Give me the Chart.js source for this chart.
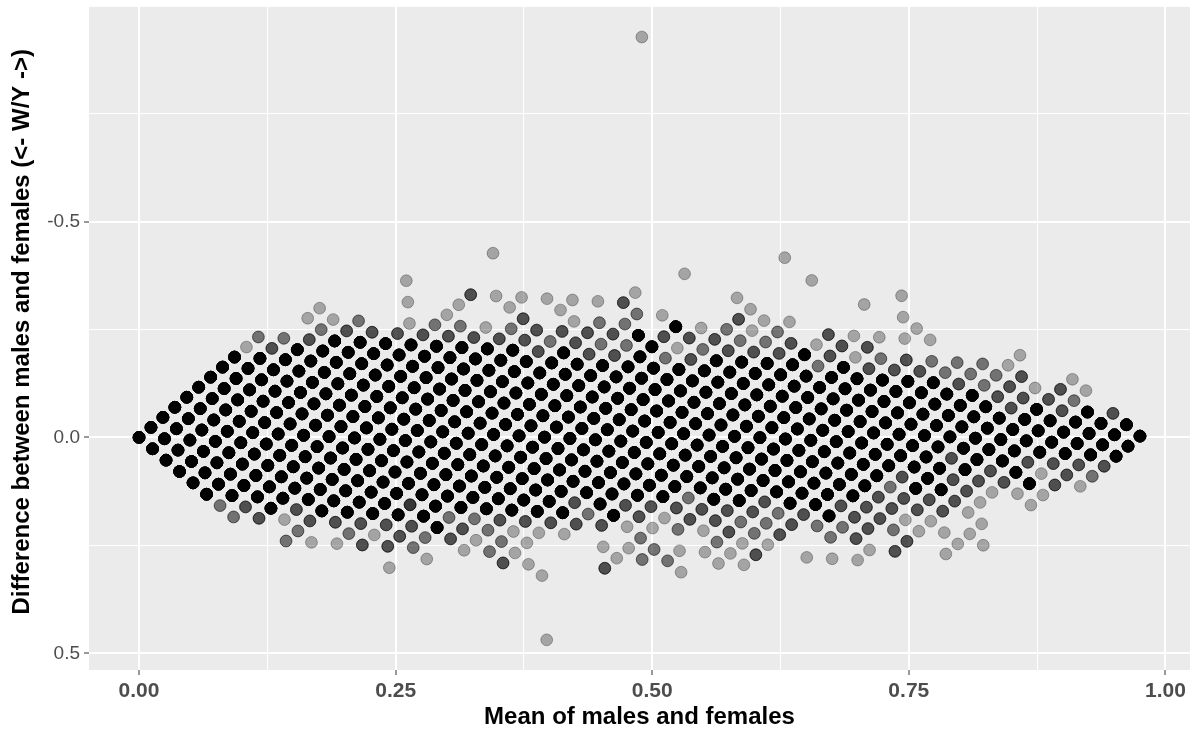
<!DOCTYPE html>
<html>
<head>
<meta charset="utf-8">
<script src="https://cdn.jsdelivr.net/npm/chart.js@4.4.1/dist/chart.umd.min.js"></script>
<style>
  html, body { margin: 0; padding: 0; background: #ffffff; }
  #wrap { width: 1199px; height: 736px; }
</style>
</head>
<body>
<div id="wrap"><canvas id="chartPlace" width="1199" height="736"></canvas></div>
<script>
// value grid: row i -> females = i/43, column j -> males = j/38
// '.' no gene, digit = number of overlapping genes, '#' = many (dense core)
const femaleSteps = 43;
const maleSteps = 38;
const countRows = [
  "######22.." + ".........." + ".........." + "........",
  "#######33." + "2........." + ".........." + "........",
  "#########1" + "21........" + ".........." + "........",
  "#########3" + "3.1......." + ".........." + "........",
  "##########" + "#323.1...." + ".........." + "........",
  "##########" + "##313....." + ".........." + "........",
  "##########" + "###3321..." + ".........." + "........",
  "##########" + "####32...." + "....1....." + "........",
  "##########" + "###4##31.." + ".........." + "........",
  "1#########" + "#####23123" + ".........." + "........",
  "23########" + "######2221" + "11........" + "........",
  ".2########" + "#######311" + ".........." + "........",
  "..3#######" + "########31" + ".........." + "........",
  ".12#######" + "#########3" + "1..3......" + "........",
  ".113######" + "##########" + "3.11......" + "........",
  "...23#####" + "#########3" + "23.12....." + "........",
  ".....3####" + "##########" + "##12221..." + "........",
  ".....13###" + "##########" + "#331.1...." + "........",
  "....1.23##" + "##########" + "##312.11.." + "........",
  "...1..123#" + "##########" + "###331211." + "........",
  "......1.13" + "##########" + "###233313." + "........",
  "......3..2" + "33########" + "#####3221." + "........",
  ".......113" + "32########" + "######323." + "1.......",
  "........1." + ".333######" + "######323." + ".1......",
  ".....1...1" + "11323#####" + "########32" + "2.1.....",
  ".........." + "1.232#####" + "##########" + "231.....",
  ".........." + ".1.2##2###" + "#########3" + "33.3....",
  ".........." + "..32.313##" + "##########" + "3323....",
  ".........." + "..1.1#32##" + "##########" + "3311.1..",
  ".........." + "......133#" + "##########" + "233111..",
  ".........." + ".......223" + "##########" + "3#33.11.",
  ".........." + "...1...312" + "3#########" + "###311..",
  ".........." + "......1112" + "3#2#######" + "##331...",
  ".........." + ".........1" + ".13#######" + "#3#31...",
  ".........." + ".........." + ".3313#####" + "###3311.",
  ".........." + ".........." + "..1323####" + "######1.",
  ".........." + "......1.1." + "...1.33###" + "####313.",
  ".........." + ".........." + ".1..1.223#" + "#####331",
  ".........." + ".........." + "...111.222" + "33####32",
  ".........." + ".........." + "..1.....22" + "33#####3",
  ".........." + ".........." + ".........1" + "3133####",
  ".1........" + ".........." + ".........1" + "..32####",
  ".........." + ".........." + ".........." + "..11.3##"
];

const xTickValues = [0, 0.125, 0.25, 0.375, 0.5, 0.625, 0.75, 0.875, 1];
const xTickLabels = ["0.00", "", "0.25", "", "0.50", "", "0.75", "", "1.00"];
const yTickValues = [-0.75, -0.5, -0.25, 0, 0.25, 0.5];
const yTickLabels = ["", "-0.5", "", "0.0", "", "0.5"];

const xTitle = "Mean of males and females";
const yTitle = "  Difference between males and females (<- W/Y ->)";

function countOf(ch) {
  if (ch == ".") return 0;
  if (ch == "#") return 12;
  return parseInt(ch);
}

// one point per gene, so overlaps darken like in the original
var points = [];
for (var i = 0; i < countRows.length; i++) {
  for (var j = 0; j < countRows[i].length; j++) {
    var n = countOf(countRows[i][j]);
    var f = i / femaleSteps;
    var m = j / maleSteps;
    for (var k = 0; k < n; k++) {
      points.push({x: (m + f) / 2, y: m - f});
    }
  }
}

// ggplot style 5% expansion of the data range
var xs = points.map(p => p.x), ys = points.map(p => p.y);
var xMin = Math.min(...xs), xMax = Math.max(...xs);
var yMin = Math.min(...ys), yMax = Math.max(...ys);
var xPad = (xMax - xMin) * 0.05, yPad = (yMax - yMin) * 0.05;

const fontFam = "'Liberation Sans', Arial, Helvetica, sans-serif";

const panelBg = {
  id: "panelBg",
  beforeDraw(chart) {
    const c = chart.ctx, a = chart.chartArea;
    c.save();
    c.fillStyle = "#ffffff";
    c.fillRect(0, 0, chart.width, chart.height);
    c.fillStyle = "#EBEBEB";
    c.fillRect(a.left, a.top, a.right - a.left, a.bottom - a.top);
    c.restore();
  }
};

function majorX(ctx) { return xTickLabels[ctx.index] !== ""; }
function majorY(ctx) { return yTickLabels[ctx.index] !== ""; }

var chartPlace = document.getElementById("chartPlace").getContext("2d");
const chart = new Chart(chartPlace, {
  type: "scatter",
  data: {
    datasets: [{
      data: points,
      backgroundColor: "rgba(0,0,0,0.3)",
      borderColor: "rgba(0,0,0,0.3)",
      borderWidth: 1,
      pointRadius: 5.9,
      pointHoverRadius: 5.9
    }]
  },
  options: {
    responsive: false,
    animation: false,
    events: [],
    parsing: false,
    normalized: true,
    layout: { padding: { top: 5, right: 9, left: 0, bottom: 0 } },
    plugins: { legend: { display: false }, tooltip: { enabled: false } },
    scales: {
      x: {
        type: "linear",
        min: xMin - xPad,
        max: xMax + xPad,
        afterBuildTicks: s => { s.ticks = xTickValues.map(v => ({value: v})); },
        afterFit: s => { s.height = 66; s.paddingLeft = 0; s.paddingRight = 0; },
        ticks: {
          autoSkip: false,
          maxRotation: 0,
          padding: 4,
          color: "#4D4D4D",
          font: { family: fontFam, size: 21, weight: "bold" },
          callback: (v, idx) => xTickLabels[idx]
        },
        grid: {
          color: "#ffffff",
          lineWidth: ctx => majorX(ctx) ? 2 : 1,
          drawTicks: true,
          tickLength: 5,
          tickWidth: 1,
          tickColor: ctx => majorX(ctx) ? "#333333" : "rgba(0,0,0,0)"
        },
        border: { display: false },
        title: {
          display: true,
          text: xTitle,
          color: "#000000",
          font: { family: fontFam, size: 24, weight: "bold", lineHeight: 1.2 },
          padding: { top: 0, bottom: 4 }
        }
      },
      y: {
        type: "linear",
        reverse: true,
        min: yMin - yPad,
        max: yMax + yPad,
        afterBuildTicks: s => { s.ticks = yTickValues.map(v => ({value: v})); },
        afterFit: s => { s.width = 89; s.paddingTop = 0; s.paddingBottom = 0; },
        ticks: {
          autoSkip: false,
          padding: 4,
          color: "#4D4D4D",
          font: { family: fontFam, size: 19 },
          callback: (v, idx) => yTickLabels[idx]
        },
        grid: {
          color: "#ffffff",
          lineWidth: ctx => majorY(ctx) ? 2 : 1,
          drawTicks: true,
          tickLength: 5,
          tickWidth: 1,
          tickColor: ctx => majorY(ctx) ? "#333333" : "rgba(0,0,0,0)"
        },
        border: { display: false },
        title: {
          display: true,
          text: yTitle,
          color: "#000000",
          font: { family: fontFam, size: 24, weight: "bold", lineHeight: 1.2 },
          padding: { top: 8, bottom: 0 }
        }
      }
    }
  },
  plugins: [panelBg]
});
</script>
</body>
</html>
